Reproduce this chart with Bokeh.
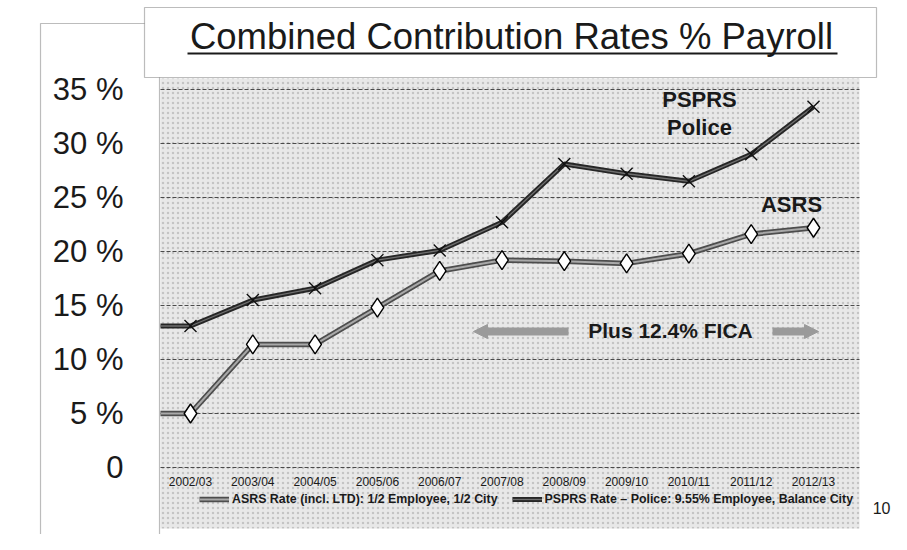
from bokeh.plotting import figure
from bokeh.models import (Range1d, FixedTicker, Label, BoxAnnotation, Arrow,
                          NormalHead, Legend, LegendItem, LinearAxis)
from bokeh.embed import file_html
from bokeh.resources import INLINE

# ---------------- data ----------------
years = ["2002/03", "2003/04", "2004/05", "2005/06", "2006/07", "2007/08",
         "2008/09", "2009/10", "2010/11", "2011/12", "2012/13"]
psprs = [13.1, 15.5, 16.6, 19.2, 20.1, 22.7, 28.1, 27.2, 26.5, 29.0, 33.4]
asrs = [5.0, 11.4, 11.4, 14.8, 18.2, 19.2, 19.1, 18.9, 19.8, 21.6, 22.2]
y_ticks = [0, 5, 10, 15, 20, 25, 30, 35]
y_tick_labels = ["0", "5 %", "10 %", "15 %", "20 %", "25 %", "30 %", "35 %"]
title_text = "Combined Contribution Rates % Payroll"
asrs_label = "ASRS Rate (incl. LTD): 1/2 Employee, 1/2 City"
psprs_label = "PSPRS Rate \u2013 Police: 9.55% Employee, Balance City"

# ---------------- layout (pixels) ----------------
W, H = 891, 534
X0_PX, DX_PX = 190.0, 62.3      # first category position, px per category
Y0_PX, DY_PX = 467.0, 10.8      # 0 % position, px per percent
PL, PR, PT, PB = 160, 859, 78, 528   # gray plot area
FONT = "Liberation Sans, Arial, sans-serif"


def fx(px):
    return (px - X0_PX) / DX_PX


def fy(py):
    return (Y0_PX - py) / DY_PX


idx = list(range(len(years)))

p = figure(width=W, height=H, output_backend="svg", toolbar_location=None,
           x_range=Range1d(fx(0), fx(W)), y_range=Range1d(fy(H), fy(0)),
           min_border=0, background_fill_color="white", border_fill_color="white",
           outline_line_color=None, x_axis_type=None, y_axis_type=None)
p.grid.visible = False

# gray speckled plot area
p.add_layout(BoxAnnotation(left=fx(PL), right=fx(PR), top=fy(PT), bottom=fy(PB),
                           fill_color="#e8e8e8", fill_alpha=1, line_color=None,
                           hatch_pattern=".", hatch_color="#8f8f8f", hatch_alpha=0.4,
                           hatch_scale=5, level="underlay"))

# horizontal dashed gridlines at the y ticks
p.segment(x0=fx(PL), x1=fx(PR), y0=y_ticks, y1=y_ticks, line_color="#4a4a4a",
          line_dash="4 2", line_width=1)

# y axis, drawn in the left box
yax = LinearAxis(ticker=FixedTicker(ticks=y_ticks), fixed_location=fx(PL))
yax.major_label_overrides = {t: s for t, s in zip(y_ticks, y_tick_labels)}
yax.major_label_text_font_size = "31px"
yax.major_label_text_font = FONT
yax.major_label_text_color = "#1a1a1a"
yax.major_label_standoff = 31
yax.axis_line_color = None
yax.major_tick_line_color = None
yax.minor_tick_line_color = None
p.add_layout(yax, "left")

# x axis, drawn at 0 inside the plot area
xax = LinearAxis(ticker=FixedTicker(ticks=idx), fixed_location=0)
xax.major_label_overrides = {i: s for i, s in zip(idx, years)}
xax.major_label_text_font_size = "12px"
xax.major_label_text_font = FONT
xax.major_label_text_color = "#1a1a1a"
xax.major_label_standoff = 1
xax.axis_line_color = None
xax.major_tick_line_color = None
xax.minor_tick_line_color = None
p.add_layout(xax, "below")

# series (extended flat to the left edge of the plot area as in the original)
xs_ext = [fx(PL)] + idx
ar_outer = p.line(xs_ext, [asrs[0]] + asrs, line_color="#4d4d4d", line_width=5.5)
ar_inner = p.line(xs_ext, [asrs[0]] + asrs, line_color="#a8a8a8", line_width=2)
p.scatter(idx, asrs, marker="diamond", size=19, fill_color="white",
          line_color="black", line_width=1.4)
ps_outer = p.line(xs_ext, [psprs[0]] + psprs, line_color="#262626", line_width=5)
ps_inner = p.line(xs_ext, [psprs[0]] + psprs, line_color="#6e6e6e", line_width=1.3)
p.scatter(idx, psprs, marker="x", size=17, line_color="#111111", line_width=1.4)

legend = Legend(items=[
    LegendItem(label=asrs_label, renderers=[ar_outer, ar_inner]),
    LegendItem(label=psprs_label, renderers=[ps_outer, ps_inner]),
], orientation="horizontal", location=(199, 28), padding=0, margin=0,
    spacing=14, glyph_width=30, glyph_height=12, label_standoff=3,
    label_text_font_size="12.4px", label_text_font=FONT, label_text_font_style="bold",
    label_text_color="#1a1a1a", border_line_color=None, background_fill_alpha=0)
p.add_layout(legend)

# in-plot annotations
bold = dict(text_font=FONT, text_font_style="bold", text_color="#1a1a1a",
            text_align="center", text_baseline="middle")
p.add_layout(Label(x=fx(699), y=fy(99), text="PSPRS", text_font_size="22px", **bold))
p.add_layout(Label(x=fx(699), y=fy(127), text="Police", text_font_size="22px", **bold))
p.add_layout(Label(x=fx(791), y=fy(204), text="ASRS", text_font_size="22px", **bold))
p.add_layout(Label(x=fx(670), y=fy(330), text="Plus 12.4% FICA", text_font_size="21px", **bold))
for a, b in [(fx(568), fx(473)), (fx(772), fx(818))]:
    p.add_layout(Arrow(x_start=a, y_start=fy(331), x_end=b, y_end=fy(331),
                       line_color="#9a9a9a", line_width=8,
                       end=NormalHead(size=14, fill_color="#9a9a9a", line_color="#9a9a9a")))

# title box, left box, page number
p.add_layout(BoxAnnotation(left=fx(40), right=fx(159), top=fy(23), bottom=fy(545),
                           fill_alpha=0, line_color="#222222", line_width=1.2))
p.add_layout(BoxAnnotation(left=fx(144), right=fx(876), top=fy(7), bottom=fy(77),
                           fill_color="white", fill_alpha=1, line_color="#222222",
                           line_width=1.2))
p.add_layout(Label(x=fx(511), y=fy(36), text=title_text, text_font=FONT,
                   text_font_size="36.5px", text_color="#1a1a1a",
                   text_align="center", text_baseline="alphabetic"))
p.add_layout(BoxAnnotation(left=fx(187), right=fx(837), top=fy(52), bottom=fy(54),
                           fill_color="#1a1a1a", fill_alpha=1, line_color=None))
p.add_layout(Label(x=fx(890), y=fy(507), text="10", text_font=FONT,
                   text_font_size="16px", text_color="#1a1a1a",
                   text_align="right", text_baseline="middle"))

open("out.html", "w").write(file_html(p, INLINE))
